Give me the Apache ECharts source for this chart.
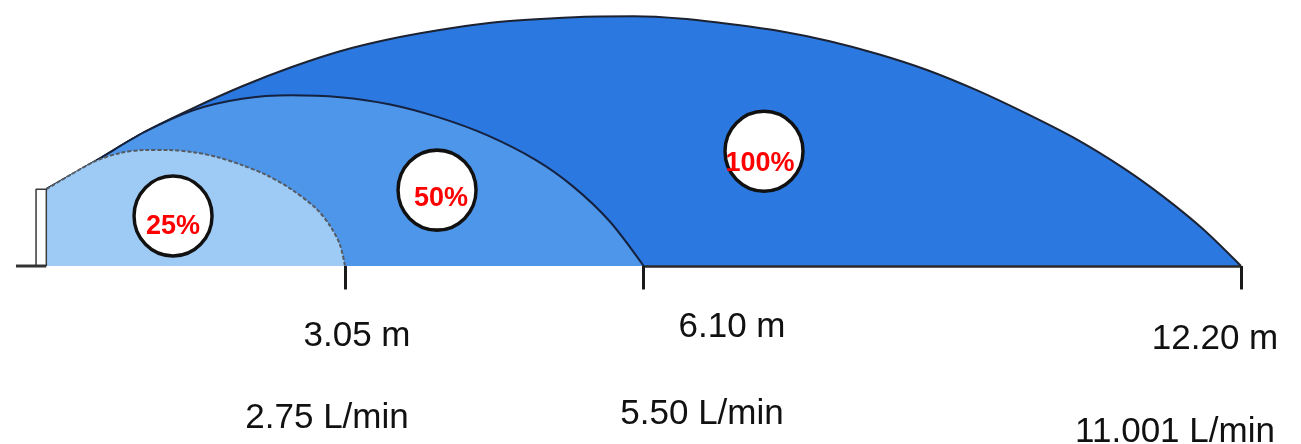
<!DOCTYPE html>
<html>
<head>
<meta charset="utf-8">
<script src="https://cdn.jsdelivr.net/npm/echarts@6/dist/echarts.min.js"></script>
<style>
html,body{margin:0;padding:0;background:#ffffff;}
#chart{width:1301px;height:444px;}
</style>
</head>
<body>
<div id="chart"></div>
<script>
// Spray throw distances (m) and matching flow rates
const distances = [3.05, 6.10, 12.20];
const distLabels = ['3.05 m', '6.10 m', '12.20 m'];
const flowLabels = ['2.75 L/min', '5.50 L/min', '11.001 L/min'];
const pctLabels = ['25%', '50%', '100%'];

// Spray envelope profiles: [distance m, height m]
const curve25 = [[0,0.786],[0.25,0.934],[0.5,1.072],[0.75,1.154],[1.0,1.185],[1.25,1.185],[1.5,1.164],[1.75,1.113],[2.0,1.031],[2.25,0.929],[2.5,0.786],[2.75,0.592],[2.9,0.408],[3.0,0.214],[3.05,0]];
const curve50 = [[0,0.786],[0.5,1.072],[1.0,1.368],[1.5,1.593],[2.0,1.711],[2.5,1.746],[3.0,1.726],[3.5,1.654],[4.0,1.522],[4.5,1.338],[5.0,1.083],[5.375,0.817],[5.75,0.460],[6.10,0]];
const curve100 = [[0,0.786],[0.5,1.072],[1.0,1.368],[1.5,1.614],[2.0,1.838],[2.5,2.032],[3.0,2.196],[3.5,2.318],[4.0,2.410],[4.5,2.482],[5.0,2.522],[5.5,2.548],[6.0,2.553],[6.5,2.528],[7.0,2.471],[7.5,2.400],[8.0,2.298],[8.5,2.165],[9.0,2.002],[9.5,1.798],[10.0,1.563],[10.5,1.307],[11.0,1.001],[11.4,0.715],[11.8,0.388],[12.20,0]];
// Marker positions for the percentage badges [distance m, height m]
const badgePos = [[1.294,0.511],[3.990,0.776],[7.329,1.174]];
// Nozzle post outline and ground stub
const post = [[-0.105,0],[-0.105,0.786],[0,0.786],[0,0]];
const groundStub = [[-0.31,0],[0,0]];

const chart = echarts.init(document.getElementById('chart'), null, {renderer:'canvas'});

const fillColors = ['#9dcbf5', '#4e96e9', '#2b78e1'];
const labelOffsets = [[0,11],[4,8],[-4,12]];
const textFont = '35px "Liberation Sans", Arial, sans-serif';

const option = {
  backgroundColor: '#ffffff',
  animation: false,
  grid: {left: 0, right: 60, top: 0, bottom: 0, containLabel: false},
  xAxis: {type:'value', min:-0.473, max:12.2, show:false},
  yAxis: {type:'value', min:-1.82, max:2.72, show:false},
  series: [
    {
      name:'100%', type:'line', data: curve100, smooth:0.3, symbol:'none', z:1,
      lineStyle:{color:'#1c2230', width:2},
      areaStyle:{color:fillColors[2], opacity:1, origin:'auto'},
      markLine:{silent:true, symbol:'none', label:{show:false},
        lineStyle:{color:'#2a2a2a', width:2.5, type:'solid'},
        data:[[{coord:[distances[1],0]},{coord:[distances[2],0]}]]}
    },
    {
      name:'50%', type:'line', data: curve50, smooth:0.3, symbol:'none', z:2,
      lineStyle:{color:'#15223f', width:2},
      areaStyle:{color:fillColors[1], opacity:1, origin:'auto'}
    },
    {
      name:'25%', type:'line', data: curve25, smooth:0.3, symbol:'none', z:3,
      lineStyle:{color:'#555b63', width:2, type:[4,2]},
      areaStyle:{color:fillColors[0], opacity:1, origin:'auto'},
      markLine:{silent:true, symbol:'none', label:{show:false},
        lineStyle:{color:'#1a1a1a', width:3, type:'solid'},
        data: distances.map(d => [{coord:[d,0]},{coord:[d,-0.24]}])}
    },
    {
      name:'post', type:'line', data: post, symbol:'none', z:4,
      lineStyle:{color:'#3a3a3a', width:1.5},
      areaStyle:{color:'#ffffff', opacity:1, origin:'auto'}
    },
    {
      name:'ground', type:'line', data: groundStub, symbol:'none', z:4,
      lineStyle:{color:'#333333', width:3}
    },
    {
      name:'badges', type:'scatter', z:6,
      data: badgePos.map((p,i)=>({value:p, label:{offset:labelOffsets[i]}})),
      symbol:'circle', symbolSize:[78,80],
      itemStyle:{color:'#ffffff', borderColor:'#111111', borderWidth:3.5, opacity:1},
      label:{show:true, position:'inside',
        formatter: p => pctLabels[p.dataIndex],
        color:'#ff0000', fontWeight:'bold', fontSize:27, fontFamily:'Liberation Sans, Arial, sans-serif'}
    }
  ],
  graphic: [
    {type:'text', x:357, y:336, z:10, style:{text:distLabels[0], fill:'#111', font:textFont, textAlign:'center', textVerticalAlign:'middle'}},
    {type:'text', x:732, y:327, z:10, style:{text:distLabels[1], fill:'#111', font:textFont, textAlign:'center', textVerticalAlign:'middle'}},
    {type:'text', x:1215, y:339, z:10, style:{text:distLabels[2], fill:'#111', font:textFont, textAlign:'center', textVerticalAlign:'middle'}},
    {type:'text', x:327, y:418, z:10, style:{text:flowLabels[0], fill:'#111', font:textFont, textAlign:'center', textVerticalAlign:'middle'}},
    {type:'text', x:702, y:414, z:10, style:{text:flowLabels[1], fill:'#111', font:textFont, textAlign:'center', textVerticalAlign:'middle'}},
    {type:'text', x:1175, y:432, z:10, style:{text:flowLabels[2], fill:'#111', font:textFont, textAlign:'center', textVerticalAlign:'middle'}}
  ]
};
chart.setOption(option);
</script>
</body>
</html>
